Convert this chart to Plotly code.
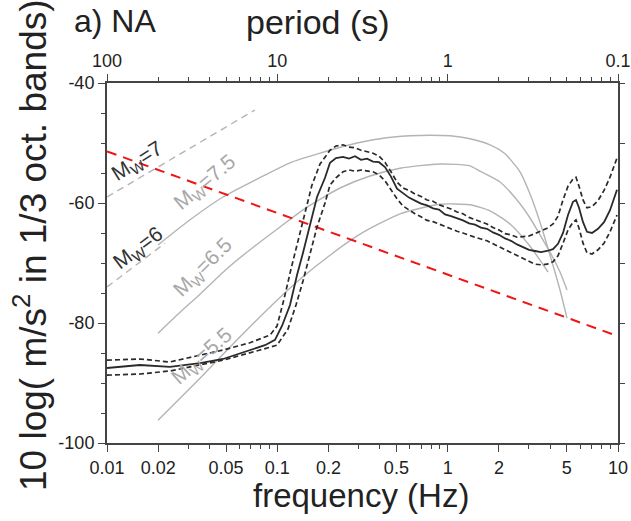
import plotly.graph_objects as go

# ---------------- data ----------------
# median spectrum (solid black)
freq_med = [0.01, 0.0156, 0.0234, 0.0352, 0.048, 0.069, 0.0846, 0.0969, 0.1065, 0.1187,
            0.1305, 0.1415, 0.1555, 0.171, 0.1905,
            0.2038, 0.2210, 0.2430, 0.2634, 0.2858, 0.3098, 0.3361, 0.3645, 0.3953, 0.4286,
            0.4648, 0.5042, 0.5468, 0.5929, 0.6431, 0.6974, 0.7563, 0.8201, 0.8895, 0.9647,
            1.046, 1.134, 1.230, 1.335, 1.447, 1.569, 1.702, 1.846, 2.002, 2.171,
            2.354, 2.554, 2.769, 3.003, 3.257, 3.532, 3.831, 4.154, 4.444, 4.755,
            5.087, 5.443, 5.668, 5.904, 6.232, 6.577, 7.038, 7.632, 8.279, 8.978, 9.867]
db_med = [-87.5, -87.0, -87.3, -86.7, -86.0, -84.5, -83.7, -82.8, -80.5, -77.0,
          -72.0, -68.3, -63.5, -59.0, -55.8,
          -53.3, -52.5, -52.3, -52.6, -52.2, -52.8, -52.6, -53.1, -53.2, -54.0,
          -55.6, -57.6, -58.4, -59.1, -59.6, -60.1, -60.4, -60.9, -61.1, -61.9,
          -62.2, -62.5, -62.9, -63.4, -63.6, -64.1, -64.3, -64.9, -65.3, -65.9,
          -66.3, -66.9, -67.3, -67.8, -68.0, -68.2, -68.0, -67.7, -66.8, -65.0,
          -62.0, -59.8, -59.5, -60.8, -63.2, -64.8, -65.0, -64.3, -63.2, -61.2, -57.8]

# upper bound (dashed black)
freq_hi = [0.01, 0.0156, 0.0234, 0.048, 0.069, 0.0906, 0.0996, 0.1095, 0.1203, 0.1305,
           0.1454, 0.1597, 0.1781,
           0.2038, 0.2210, 0.2430, 0.2634, 0.2858, 0.3098, 0.3361, 0.3645, 0.3953, 0.4286,
           0.4648, 0.5042, 0.5468, 0.5929, 0.6431, 0.6974, 0.7563, 0.8201, 0.8895, 0.9647,
           1.046, 1.134, 1.230, 1.335, 1.447, 1.569, 1.702, 1.846, 2.002, 2.171,
           2.354, 2.554, 2.769, 3.003, 3.257, 3.532, 3.831, 4.154, 4.444, 4.755,
           5.087, 5.443, 5.668, 5.904, 6.232, 6.577, 7.038, 7.632, 8.279, 8.978, 9.867]
db_hi = [-86.2, -86.0, -86.5, -84.5, -83.3, -82.0, -80.5, -76.0, -71.0, -67.0,
         -61.5, -57.0, -53.5,
         -51.2, -50.5, -50.3, -50.7, -50.8, -51.2, -51.4, -51.7, -52.2, -53.2,
         -54.8, -56.5, -57.5, -57.9, -58.5, -58.9, -59.5, -59.7, -60.3, -60.6,
         -61.0, -61.5, -61.8, -62.4, -62.8, -63.2, -63.5, -64.1, -64.5, -65.1,
         -65.3, -65.7, -65.6, -65.5, -65.1, -64.7, -64.2, -63.5, -62.2, -59.5,
         -57.2, -56.0, -55.7, -57.2, -59.5, -60.8, -60.6, -59.6, -57.9, -55.7, -52.5]

# lower bound (dashed black)
freq_lo = [0.01, 0.0156, 0.0234, 0.048, 0.0791, 0.0996, 0.1155, 0.1287, 0.1415, 0.1555,
           0.171, 0.1905,
           0.2038, 0.2210, 0.2430, 0.2634, 0.2858, 0.3098, 0.3361, 0.3645, 0.3953, 0.4286,
           0.4648, 0.5042, 0.5468, 0.5929, 0.6431, 0.6974, 0.7563, 0.8201, 0.8895, 0.9647,
           1.046, 1.134, 1.230, 1.335, 1.447, 1.569, 1.702, 1.846, 2.002, 2.171,
           2.354, 2.554, 2.769, 3.003, 3.257, 3.532, 3.831, 4.154, 4.444, 4.755,
           5.087, 5.443, 5.668, 5.904, 6.232, 6.577, 7.038, 7.632, 8.279, 8.978, 9.867]
db_lo = [-88.7, -88.5, -88.0, -86.2, -84.5, -83.7, -81.0, -77.0, -73.0, -68.5,
         -64.0, -60.0,
         -57.0, -55.8, -54.8, -54.5, -54.7, -54.5, -54.7, -54.8, -55.3, -56.3,
         -57.8, -59.3, -60.5, -61.2, -61.8, -62.3, -62.9, -63.1, -63.5, -64.0,
         -64.3, -64.7, -65.0, -65.4, -65.7, -66.0, -66.3, -66.8, -67.3, -67.8,
         -68.3, -68.8, -69.3, -69.8, -70.2, -70.3, -70.2, -69.8, -68.8, -66.7,
         -64.5, -63.2, -62.8, -64.2, -66.7, -68.3, -68.5, -67.8, -66.7, -64.8, -62.0]

# model curves (gray)
freq_m75 = [0.01993, 0.03071, 0.04797, 0.07393, 0.1187, 0.1781, 0.2671, 0.4008, 0.601, 0.7877,
            1.032, 1.353, 1.773, 2.171, 2.659, 3.045, 3.485, 3.99, 4.566, 5.02]
db_m75 = [-67.0, -62.8, -59.0, -56.2, -53.3, -51.7, -50.3, -49.3, -48.8, -48.7,
          -48.8, -49.3, -50.3, -51.8, -54.8, -58.5, -63.2, -68.7, -74.5, -79.2]

freq_m65 = [0.01993, 0.02683, 0.03516, 0.05132, 0.0691, 0.1037, 0.1494, 0.2333, 0.35, 0.5252,
            0.9016, 1.353, 1.548, 2.029, 2.554, 3.045, 3.485, 3.99, 4.566, 5.02]
db_m65 = [-81.7, -78.2, -75.2, -70.8, -67.8, -64.0, -60.7, -57.5, -55.5, -54.2,
          -53.5, -53.8, -54.7, -56.5, -59.5, -62.5, -65.3, -68.2, -71.5, -74.5]

freq_m55 = [0.01993, 0.03516, 0.05492, 0.0996, 0.1359, 0.2038, 0.3058, 0.5252, 0.9016, 1.353,
            1.773, 2.323, 3.045, 3.883]
db_m55 = [-96.2, -89.2, -83.5, -76.2, -72.7, -68.7, -65.2, -61.8, -60.2, -60.3,
          -61.3, -63.5, -67.2, -71.5]

freq_m7 = [0.01, 0.0739]
db_m7 = [-59.0, -44.5]

freq_m6 = [0.01, 0.0219]
db_m6 = [-74.0, -66.7]

freq_red = [0.01, 10.0]
db_red = [-51.4, -82.2]

x_ticks = [0.01, 0.02, 0.05, 0.1, 0.2, 0.5, 1, 2, 5, 10]
x_ticktext = ["0.01", "0.02", "0.05", "0.1", "0.2", "0.5", "1", "2", "5", "10"]
x_minor = [m * 10.0 ** e for e in (-2, -1, 0) for m in (3, 4, 6, 7, 8, 9)]
top_ticks = [0.01, 0.1, 1, 10]
top_ticktext = ["100", "10", "1", "0.1"]
top_minor = [m * 10.0 ** e for e in (-2, -1, 0) for m in (2, 3, 4, 5, 6, 7, 8, 9)]
y_ticks = [-100, -80, -60, -40]
y_ticktext = ["-100", "-80", "-60", "-40"]

# ---------------- figure ----------------
GRAY = "#b4b4b4"
DARK = "#2a2a2a"
fig = go.Figure()

def add(xs, ys, color, width, dash="solid", shape="linear", smoothing=0.6):
    line = dict(color=color, width=width, dash=dash, shape=shape)
    if shape == "spline":
        line["smoothing"] = smoothing
    fig.add_trace(go.Scatter(x=xs, y=ys, mode="lines", line=line,
                             hoverinfo="skip", showlegend=False))

add(freq_m75, db_m75, GRAY, 1.4, shape="spline")
add(freq_m65, db_m65, GRAY, 1.4, shape="spline")
add(freq_m55, db_m55, GRAY, 1.4, shape="spline")
add(freq_m7, db_m7, GRAY, 1.4, dash="7px,5px")
add(freq_m6, db_m6, GRAY, 1.4, dash="7px,5px")
add(freq_red, db_red, "#ee1515", 2.0, dash="10px,7px")
add(freq_hi, db_hi, DARK, 1.7, dash="5px,3px")
add(freq_lo, db_lo, DARK, 1.7, dash="5px,3px")
add(freq_med, db_med, DARK, 1.8)

# dummy trace for top/right axes
fig.add_trace(go.Scatter(x=[0.01, 10], y=[-100, -40], xaxis="x2", yaxis="y2",
                         mode="markers", marker=dict(opacity=0), hoverinfo="skip",
                         showlegend=False))

AX = "#444444"
TF = dict(family="Liberation Sans, Arial, sans-serif", size=18, color="#222")

common = dict(showgrid=False, zeroline=False, showline=True, linecolor=AX,
              linewidth=2, ticks="outside", tickcolor=AX, automargin=False)

fig.update_layout(
    width=631, height=521,
    margin=dict(l=107, r=13, t=83, b=78, autoexpand=False),
    paper_bgcolor="white", plot_bgcolor="white",
    xaxis=dict(type="log", range=[-2, 1], ticklen=7, tickwidth=1.3,
               tickmode="array", tickvals=x_ticks, ticktext=x_ticktext, tickfont=TF,
               minor=dict(tickmode="array", tickvals=x_minor, ticks="outside",
                          ticklen=4, tickwidth=1, tickcolor=AX), **common),
    xaxis2=dict(type="log", range=[-2, 1], overlaying="x", side="top", anchor="y",
                ticklen=7, tickwidth=1.3,
                tickmode="array", tickvals=top_ticks, ticktext=top_ticktext, tickfont=TF,
                minor=dict(tickmode="array", tickvals=top_minor, ticks="outside",
                           ticklen=4, tickwidth=1, tickcolor=AX), **common),
    yaxis=dict(range=[-100, -40], ticklen=7, tickwidth=1.3,
               tickmode="array", tickvals=y_ticks, ticktext=y_ticktext, tickfont=TF,
               minor=dict(dtick=5, tick0=-100, ticks="outside", ticklen=4, tickwidth=1,
                          tickcolor=AX), **common),
    yaxis2=dict(range=[-100, -40], overlaying="y", side="right", anchor="x",
                ticklen=5, tickwidth=1.2, tickmode="linear", tick0=-100, dtick=10,
                showticklabels=False, **common),
)

FAM = "Liberation Sans, Arial, sans-serif"

def px2paper(X, Y):
    return (X - 107) / 511.0, (443 - Y) / 360.0

LBL_K = dict(family=FAM, size=21, color="#333")
LBL_G = dict(family=FAM, size=21, color="#a8a8a8")
annots = [
    ("a) NA", 115, 21, 0, dict(family=FAM, size=32, color="#222")),
    ("period (s)", 318, 22, 0, dict(family=FAM, size=34, color="#222")),
    ("frequency (Hz)", 361, 495, 0, dict(family=FAM, size=33, color="#222")),
    ("10 log( m/s<sup>2</sup> in 1/3 oct. bands)", 31, 245, -90,
     dict(family=FAM, size=37, color="#222")),
    ("M<sub>W</sub>=7", 137, 162, -32, LBL_K),
    ("M<sub>W</sub>=6", 138, 249, -37, LBL_K),
    ("M<sub>W</sub>=7.5", 205, 183, -40, LBL_G),
    ("M<sub>W</sub>=6.5", 203, 268, -45, LBL_G),
    ("M<sub>W</sub>=5.5", 202, 357, -42, LBL_G),
]
for text, X, Y, ang, font in annots:
    xp, yp = px2paper(X, Y)
    fig.add_annotation(text=text, x=xp, y=yp, xref="paper", yref="paper",
                       xanchor="center", yanchor="middle", showarrow=False,
                       textangle=ang, font=font)

fig.write_html("out.html")
